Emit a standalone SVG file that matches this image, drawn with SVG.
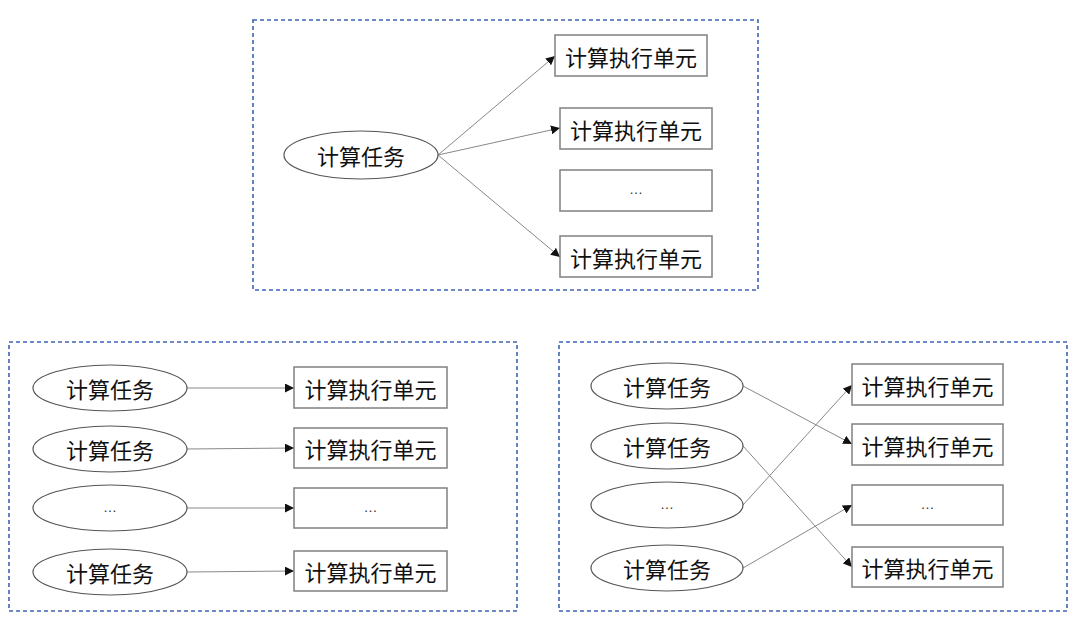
<svg xmlns="http://www.w3.org/2000/svg" width="1080" height="623" viewBox="0 0 1080 623">
<style>
.panel{fill:none;stroke:#3f64b4;stroke-width:1.6;stroke-dasharray:4 3}
.ell{fill:#fff;stroke:#555;stroke-width:1.2}
.box{fill:#fff;stroke:#808080;stroke-width:1.5}
.t{font-family:"Noto Sans CJK SC","Liberation Sans",sans-serif;font-size:22px;fill:#111;text-anchor:middle;dominant-baseline:central}
.d{font-family:"Liberation Sans",sans-serif;font-size:14px;fill:#333;text-anchor:middle;dominant-baseline:central}
.c{fill:none;stroke:#888;stroke-width:1;marker-end:url(#ah)}
</style>
<defs>
<marker id="ah" viewBox="0 0 10 10" refX="10" refY="5" markerWidth="9" markerHeight="9" markerUnits="userSpaceOnUse" orient="auto">
<path d="M0,0 L10,5 L0,10 z" fill="#111"/>
</marker>
</defs>
<rect width="1080" height="623" fill="#fff"/>
<g id="panels">
<rect class="panel" x="253" y="20" width="505" height="270"/>
<rect class="panel" x="9" y="342" width="508" height="269"/>
<rect class="panel" x="559" y="342" width="508" height="269"/>
</g>
<g id="connectors">
<line class="c" x1="438" y1="155" x2="555" y2="56"/>
<line class="c" x1="438" y1="155" x2="560" y2="128"/>
<line class="c" x1="438" y1="155" x2="560" y2="257"/>
<line class="c" x1="187" y1="388" x2="294" y2="388"/>
<line class="c" x1="187" y1="449" x2="294" y2="448"/>
<line class="c" x1="187" y1="508" x2="294" y2="508"/>
<line class="c" x1="187" y1="572" x2="294" y2="571"/>
<line class="c" x1="743" y1="386" x2="852" y2="444"/>
<line class="c" x1="743" y1="446" x2="852" y2="567"/>
<line class="c" x1="743" y1="505" x2="852" y2="385"/>
<line class="c" x1="743" y1="568" x2="852" y2="505"/>
</g>
<g id="top-task"><ellipse class="ell" cx="361" cy="155" rx="77" ry="24"/><text class="t" x="361" y="155">计算任务</text></g>
<g id="top-unit1"><rect class="box" x="555" y="35" width="152" height="41"/><text class="t" x="631" y="55.5">计算执行单元</text></g>
<g id="top-unit2"><rect class="box" x="560" y="108" width="152" height="41"/><text class="t" x="636" y="128.5">计算执行单元</text></g>
<g id="top-unit3"><rect class="box" x="560" y="170" width="152" height="41"/><text class="d" x="636" y="189">…</text></g>
<g id="top-unit4"><rect class="box" x="560" y="236" width="152" height="41"/><text class="t" x="636" y="256.5">计算执行单元</text></g>

<g id="bl-task1"><ellipse class="ell" cx="110" cy="388" rx="77" ry="23"/><text class="t" x="110" y="388">计算任务</text></g>
<g id="bl-task2"><ellipse class="ell" cx="110" cy="449" rx="77" ry="23"/><text class="t" x="110" y="449">计算任务</text></g>
<g id="bl-task3"><ellipse class="ell" cx="110" cy="508" rx="77" ry="23"/><text class="d" x="110" y="507">…</text></g>
<g id="bl-task4"><ellipse class="ell" cx="110" cy="572" rx="77" ry="23"/><text class="t" x="110" y="572">计算任务</text></g>
<g id="bl-unit1"><rect class="box" x="294" y="367" width="153" height="41"/><text class="t" x="370.5" y="387.5">计算执行单元</text></g>
<g id="bl-unit2"><rect class="box" x="294" y="428" width="153" height="40"/><text class="t" x="370.5" y="448">计算执行单元</text></g>
<g id="bl-unit3"><rect class="box" x="294" y="488" width="153" height="40"/><text class="d" x="370.5" y="507">…</text></g>
<g id="bl-unit4"><rect class="box" x="294" y="551" width="153" height="40"/><text class="t" x="370.5" y="571">计算执行单元</text></g>

<g id="br-task1"><ellipse class="ell" cx="667" cy="386" rx="76" ry="23"/><text class="t" x="667" y="386">计算任务</text></g>
<g id="br-task2"><ellipse class="ell" cx="667" cy="446" rx="76" ry="23"/><text class="t" x="667" y="446">计算任务</text></g>
<g id="br-task3"><ellipse class="ell" cx="667" cy="505" rx="76" ry="23"/><text class="d" x="667" y="504">…</text></g>
<g id="br-task4"><ellipse class="ell" cx="667" cy="568" rx="76" ry="23"/><text class="t" x="667" y="568">计算任务</text></g>
<g id="br-unit1"><rect class="box" x="852" y="364" width="151" height="41"/><text class="t" x="927.5" y="384.5">计算执行单元</text></g>
<g id="br-unit2"><rect class="box" x="852" y="424" width="151" height="41"/><text class="t" x="927.5" y="444.5">计算执行单元</text></g>
<g id="br-unit3"><rect class="box" x="852" y="485" width="151" height="40"/><text class="d" x="927.5" y="504">…</text></g>
<g id="br-unit4"><rect class="box" x="852" y="547" width="151" height="40"/><text class="t" x="927.5" y="567">计算执行单元</text></g>
</svg>
